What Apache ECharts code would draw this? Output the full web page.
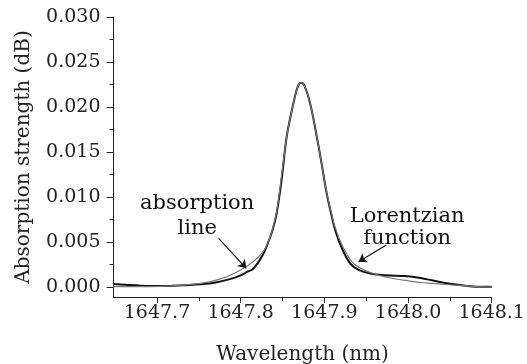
<!DOCTYPE html>
<html><head><meta charset="utf-8">
<script src="https://cdn.jsdelivr.net/npm/echarts@6/dist/echarts.min.js"></script>
<style>html,body{margin:0;padding:0;background:#fff}#c{width:527px;height:364px}</style>
</head><body><div id="c"></div>
<script>
const xTicks = [1647.7, 1647.8, 1647.9, 1648.0, 1648.1];
const xMinorTicks = [1647.75, 1647.85, 1647.95, 1648.05];
const yTicks = [0, 0.005, 0.010, 0.015, 0.020, 0.025, 0.030];
const yMinorTicks = [0.0025, 0.0075, 0.0125, 0.0175, 0.0225, 0.0275];

const absWavelength = [1647.648,1647.662,1647.680,1647.698,1647.716,1647.734,1647.752,1647.770,1647.788,1647.800,1647.808,1647.814,1647.820,1647.826,1647.831,1647.838,1647.843,1647.849,1647.855,1647.863,1647.868,1647.872,1647.876,1647.883,1647.891,1647.898,1647.903,1647.908,1647.913,1647.920,1647.931,1647.941,1647.955,1647.973,1647.991,1648.003,1648.015,1648.030,1648.050,1648.071,1648.090,1648.100];
const absStrength = [0.00033,0.00025,0.00015,0.00010,0.00012,0.00020,0.00030,0.00050,0.00090,0.00130,0.00170,0.00195,0.00260,0.00350,0.00450,0.00630,0.00820,0.01200,0.01670,0.02040,0.02220,0.02270,0.02240,0.02040,0.01670,0.01300,0.01030,0.00820,0.00630,0.00450,0.00260,0.00190,0.00150,0.00130,0.00122,0.00118,0.00100,0.00072,0.00035,0.00012,0.00002,0.00003];

const lorWavelength = [1647.648,1647.680,1647.712,1647.752,1647.776,1647.800,1647.816,1647.828,1647.836,1647.843,1647.849,1647.855,1647.863,1647.868,1647.872,1647.876,1647.883,1647.891,1647.898,1647.903,1647.908,1647.913,1647.922,1647.933,1647.943,1647.958,1647.979,1647.999,1648.015,1648.030,1648.050,1648.071,1648.090,1648.100];
const lorStrength = [0.00005,0.00005,0.00010,0.00040,0.00090,0.00190,0.00290,0.00410,0.00580,0.00840,0.01250,0.01670,0.02040,0.02220,0.02270,0.02240,0.02040,0.01670,0.01300,0.01040,0.00840,0.00660,0.00450,0.00280,0.00210,0.00150,0.00100,0.00070,0.00050,0.00040,0.00025,0.00012,0.00003,0.00002];

const absLabel = {text: 'absorption\nline', at: [1647.748, 0.00783], arrowFrom: [1647.7736, 0.00541], arrowTo: [1647.8067, 0.00208]};
const lorLabel = {text: 'Lorentzian\nfunction', at: [1647.999, 0.00663], arrowFrom: [1647.974, 0.00467], arrowTo: [1647.9409, 0.00281]};

const FONT = 'DejaVu Serif';
const zip = (a, b) => a.map((v, i) => [v, b[i]]);

const chart = echarts.init(document.getElementById('c'), null, {renderer: 'canvas'});
const xMin = 1647.648, xMax = 1648.1, yMin = -0.00111, yMax = 0.03;

function annot(l, lh) {
  return {
    markLine: {
      silent: true, animation: false,
      symbol: ['none', 'arrow'], symbolSize: 8,
      lineStyle: {color: '#111', width: 1.2, type: 'solid'},
      label: {show: false},
      data: [[{coord: l.arrowFrom}, {coord: l.arrowTo}]]
    },
    markPoint: {
      silent: true, animation: false,
      data: [{coord: l.at, symbol: 'circle', symbolSize: 1, itemStyle: {color: 'rgba(0,0,0,0)'},
        label: {show: true, position: 'inside', formatter: l.text, color: '#111',
          fontFamily: FONT, fontSize: 21, lineHeight: lh, align: 'center', verticalAlign: 'middle'}}]
    }
  };
}

chart.setOption({
  animation: false,
  backgroundColor: '#fff',
  grid: {left: 113.5, right: 35.3, top: 17, bottom: 67, containLabel: false, outerBoundsMode: 'none'},
  xAxis: [{
    type: 'value', min: xMin, max: xMax,
    name: 'Wavelength (nm)', nameLocation: 'middle', nameGap: 48,
    nameTextStyle: {fontFamily: FONT, fontSize: 20, color: '#222'},
    axisLine: {show: true, onZero: false, lineStyle: {color: '#222', width: 1}},
    axisTick: {show: true, inside: false, length: 6, customValues: xTicks, lineStyle: {color: '#222', width: 1}},
    axisLabel: {show: true, margin: 7, customValues: xTicks, formatter: v => v.toFixed(1),
      fontFamily: FONT, fontSize: 19, color: '#222'},
    splitLine: {show: false}
  }, {
    type: 'value', min: xMin, max: xMax, position: 'bottom',
    axisLine: {show: false, onZero: false},
    axisTick: {show: true, inside: false, length: 4, customValues: xMinorTicks, lineStyle: {color: '#222', width: 1}},
    axisLabel: {show: false},
    splitLine: {show: false}
  }],
  yAxis: [{
    type: 'value', min: yMin, max: yMax, position: 'left',
    name: 'Absorption strength (dB)', nameLocation: 'middle', nameGap: 80,
    nameTextStyle: {fontFamily: FONT, fontSize: 20, color: '#222'},
    axisLine: {show: true, onZero: false, lineStyle: {color: '#222', width: 1}},
    axisTick: {show: true, inside: false, length: 7, customValues: yTicks, lineStyle: {color: '#222'}},
    axisLabel: {show: true, margin: 13, customValues: yTicks, formatter: v => v.toFixed(3),
      fontFamily: FONT, fontSize: 19, color: '#222'},
    splitLine: {show: false}
  }, {
    type: 'value', min: yMin, max: yMax, position: 'left',
    axisLine: {show: false, onZero: false},
    axisTick: {show: true, inside: false, length: 4, customValues: yMinorTicks, lineStyle: {color: '#222'}},
    axisLabel: {show: false},
    splitLine: {show: false}
  }],
  series: [
    Object.assign({
      name: 'absorption line', type: 'line', xAxisIndex: 0, yAxisIndex: 0,
      data: zip(absWavelength, absStrength), showSymbol: false, smooth: 0.35,
      lineStyle: {color: '#111', width: 2}, z: 3
    }, annot(absLabel, 25)),
    Object.assign({
      name: 'Lorentzian function', type: 'line', xAxisIndex: 0, yAxisIndex: 0,
      data: zip(lorWavelength, lorStrength), showSymbol: false, smooth: 0.35,
      lineStyle: {color: '#777', width: 1.2}, z: 4
    }, annot(lorLabel, 22))
  ]
});
</script>
</body></html>
